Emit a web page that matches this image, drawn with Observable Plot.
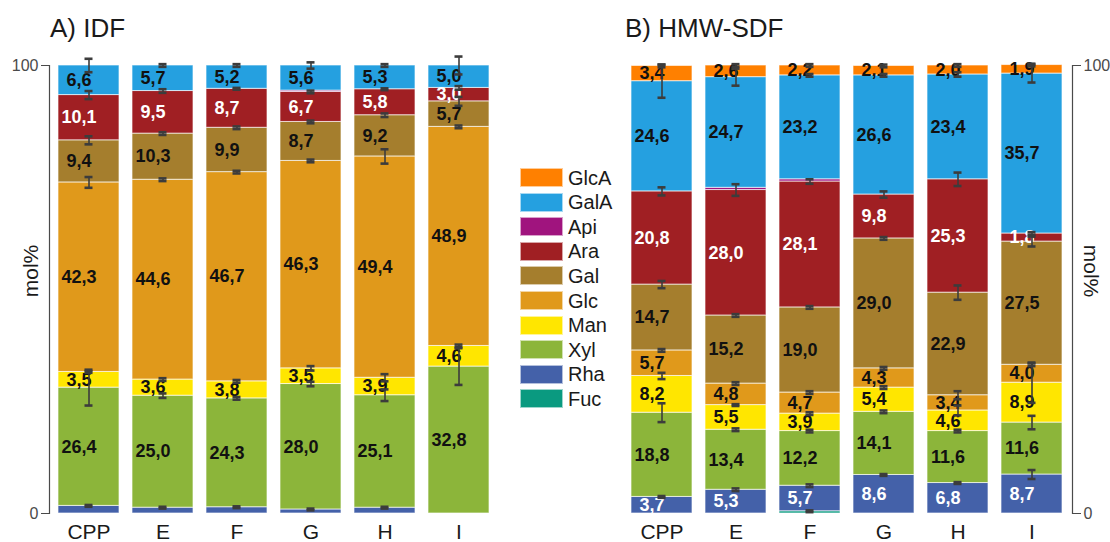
<!DOCTYPE html>
<html>
<head>
<meta charset="utf-8">
<script src="https://cdn.jsdelivr.net/npm/d3@7"></script>
<script src="https://cdn.jsdelivr.net/npm/@observablehq/plot@0.6"></script>
<style>
  body { margin: 0; background: #fff; font-family: "Liberation Sans", Arial, sans-serif; }
  #root { position: relative; width: 1110px; height: 542px; overflow: hidden; background: #fff; }
  .abs { position: absolute; white-space: nowrap; color: #1a1a1a; }
  .title { font-size: 26px; line-height: 26px; }
  .ylab { font-size: 21px; line-height: 21px; transform: translate(-50%, -50%) rotate(-90deg); }
  .ylabR { font-size: 21px; line-height: 21px; transform: translate(-50%, -50%) rotate(90deg); }
  .sw { position: absolute; width: 43px; height: 19px; box-sizing: border-box; border: 1px solid rgba(255,255,255,0.6); }
  .lt { position: absolute; font-size: 20px; line-height: 20px; color: #1a1a1a; }
</style>
</head>
<body>
<div id="root"></div>
<script>
// ---- categories ----
const samples = ["CPP", "E", "F", "G", "H", "I"];
// stacking order, bottom to top
const sugars = ["Fuc", "Rha", "Xyl", "Man", "Glc", "Gal", "Ara", "Api", "GalA", "GlcA"];
const sugarColors = ["#0a9a80", "#4461a9", "#8cb53a", "#ffe600", "#e0991b", "#a57e2d", "#a01f23", "#a0147e", "#25a0e0", "#ff8000"];

// ---- A) IDF values (mol%) ----
const idfFuc  = [0, 0, 0, 0, 0, 0];
const idfRha  = [1.7, 1.3, 1.4, 0.9, 1.3, 0];
const idfXyl  = [26.4, 25.0, 24.3, 28.0, 25.1, 32.8];
const idfMan  = [3.5, 3.6, 3.8, 3.5, 3.9, 4.6];
const idfGlc  = [42.3, 44.6, 46.7, 46.3, 49.4, 48.9];
const idfGal  = [9.4, 10.3, 9.9, 8.7, 9.2, 5.7];
const idfAra  = [10.1, 9.5, 8.7, 6.7, 5.8, 3.0];
const idfApi  = [0, 0, 0, 0.3, 0, 0];
const idfGalA = [6.6, 5.7, 5.2, 5.6, 5.3, 5.0];
const idfGlcA = [0, 0, 0, 0, 0, 0];
// error bars (sd, at top of each segment)
const idfErrRha  = [0.2, 0.2, 0.2, 0.2, 0.2, 0];
const idfErrXyl  = [4.0, 0.5, 0.3, 0.5, 1.3, 4.1];
const idfErrMan  = [0.2, 0.3, 0.3, 0.5, 0.8, 0.3];
const idfErrGlc  = [1.2, 0.3, 0.3, 0.3, 1.6, 0.3];
const idfErrGal  = [0.9, 0.3, 0.3, 0.3, 0.4, 1.0];
const idfErrAra  = [0.9, 0.4, 0.2, 0.3, 0.2, 0.4];
const idfErrGalA = [1.5, 0.3, 0.3, 0.7, 0.3, 2.0];
const idfLabelled = ["Xyl", "Man", "Glc", "Gal", "Ara", "GalA"];

// ---- B) HMW-SDF values (mol%) ----
const sdfFuc  = [0, 0, 0.5, 0, 0, 0];
const sdfRha  = [3.7, 5.3, 5.7, 8.6, 6.8, 8.7];
const sdfXyl  = [18.8, 13.4, 12.2, 14.1, 11.6, 11.6];
const sdfMan  = [8.2, 5.5, 3.9, 5.4, 4.6, 8.9];
const sdfGlc  = [5.7, 4.8, 4.7, 4.3, 3.4, 4.0];
const sdfGal  = [14.7, 15.2, 19.0, 29.0, 22.9, 27.5];
const sdfAra  = [20.8, 28.0, 28.1, 9.8, 25.3, 1.8];
const sdfApi  = [0, 0.5, 0.5, 0, 0, 0];
const sdfGalA = [24.6, 24.7, 23.2, 26.6, 23.4, 35.7];
const sdfGlcA = [3.4, 2.6, 2.2, 2.1, 2.0, 1.9];
const sdfErrFuc  = [0, 0, 0.2, 0, 0, 0];
const sdfErrRha  = [0.2, 0.3, 0.3, 0.2, 0.2, 1.0];
const sdfErrXyl  = [2.1, 0.3, 0.3, 0.3, 0.3, 1.5];
const sdfErrMan  = [0.7, 0.2, 0.3, 0.3, 1.1, 4.5];
const sdfErrGlc  = [0.3, 0.3, 0.3, 0.3, 0.9, 0.3];
const sdfErrGal  = [0.8, 0.3, 0.3, 0.3, 1.6, 1.1];
const sdfErrAra  = [0.9, 1.3, 0.5, 0.7, 1.5, 0.3];
const sdfErrGalA = [3.7, 1.9, 0.3, 0.3, 0.5, 2.0];
const sdfErrGlcA = [0.3, 0.3, 0.3, 0.3, 0.3, 0.3];
const sdfLabelled = ["Rha", "Xyl", "Man", "Glc", "Gal", "Ara", "GalA", "GlcA"];

const whiteLabelSugars = ["Ara", "Rha"];

const idfVals = {Fuc: idfFuc, Rha: idfRha, Xyl: idfXyl, Man: idfMan, Glc: idfGlc, Gal: idfGal, Ara: idfAra, Api: idfApi, GalA: idfGalA, GlcA: idfGlcA};
const idfErrs = {Rha: idfErrRha, Xyl: idfErrXyl, Man: idfErrMan, Glc: idfErrGlc, Gal: idfErrGal, Ara: idfErrAra, GalA: idfErrGalA};
const sdfVals = {Fuc: sdfFuc, Rha: sdfRha, Xyl: sdfXyl, Man: sdfMan, Glc: sdfGlc, Gal: sdfGal, Ara: sdfAra, Api: sdfApi, GalA: sdfGalA, GlcA: sdfGlcA};
const sdfErrs = {Fuc: sdfErrFuc, Rha: sdfErrRha, Xyl: sdfErrXyl, Man: sdfErrMan, Glc: sdfErrGlc, Gal: sdfErrGal, Ara: sdfErrAra, GalA: sdfErrGalA, GlcA: sdfErrGlcA};

function buildRows(vals, errs, labelled) {
  const rows = [];
  samples.forEach((s, i) => {
    let cum = 0;
    for (const g of sugars) {
      const v = vals[g][i];
      const e = errs[g] ? errs[g][i] : 0;
      rows.push({sample: s, sugar: g, v, y1: cum, y2: cum + v, err: e, label: labelled.includes(g)});
      cum += v;
    }
  });
  return rows.filter(d => d.v > 0);
}

const fmt = v => v.toFixed(1).replace(".", ",");
const errColor = "#3c3c3c";

function chart(rows, opts) {
  const labels = rows.filter(d => d.label);
  const errRows = rows.filter(d => d.err > 0);
  return Plot.plot({
    width: opts.width, height: 542,
    marginTop: 65, marginBottom: 29, marginLeft: opts.ml, marginRight: opts.mr,
    x: {domain: samples, paddingInner: 0.17, paddingOuter: 0.1, axis: null},
    y: {domain: [0, 100], axis: null},
    color: {domain: sugars, range: sugarColors},
    style: {fontFamily: "'Liberation Sans', Arial, sans-serif", background: "transparent", overflow: "visible"},
    marks: [
      Plot.barY(rows, {x: "sample", y1: "y1", y2: "y2", fill: "sugar", stroke: "#ffffff", strokeOpacity: 0.65, strokeWidth: 1}),
      Plot.text(labels.filter(d => !whiteLabelSugars.includes(d.sugar)), {
        x: "sample", y: d => (d.y1 + d.y2) / 2, text: d => fmt(d.v), dx: -10,
        fill: "#111", fontSize: 18, fontWeight: "bold"}),
      Plot.text(labels.filter(d => whiteLabelSugars.includes(d.sugar)), {
        x: "sample", y: d => (d.y1 + d.y2) / 2, text: d => fmt(d.v), dx: -10,
        fill: "#ffffff", fontSize: 18, fontWeight: "bold"}),
      Plot.ruleX(errRows, {x: "sample", y1: d => d.y2 - d.err, y2: d => d.y2 + d.err, stroke: errColor, strokeWidth: 1.6}),
      Plot.tickY(errRows, {x: "sample", y: d => d.y2 - d.err, insetLeft: 26.5, insetRight: 26.5, stroke: errColor, strokeWidth: 2.6}),
      Plot.tickY(errRows, {x: "sample", y: d => d.y2 + d.err, insetLeft: 26.5, insetRight: 26.5, stroke: errColor, strokeWidth: 2.6}),
      Plot.axisX({fontSize: 21, tickSize: 0, tickPadding: 11, label: null, color: "#1a1a1a"}),
      Plot.axisY({anchor: opts.anchor, ticks: [0, 100], tickSize: 8, tickPadding: 3, fontSize: 16, label: null, color: "#4a4a4a"}),
      Plot.frame({anchor: opts.anchor, stroke: "#4a4a4a", strokeWidth: 1.2})
    ]
  });
}

const root = document.getElementById("root");

const left = chart(buildRows(idfVals, idfErrs, idfLabelled), {width: 500, ml: 49, mr: 1, anchor: "left"});
left.style.position = "absolute"; left.style.left = "0px"; left.style.top = "0px";
root.appendChild(left);

const right = chart(buildRows(sdfVals, sdfErrs, sdfLabelled), {width: 510, ml: 21, mr: 38, anchor: "right"});
right.style.position = "absolute"; right.style.left = "600px"; right.style.top = "0px";
root.appendChild(right);

function addText(cls, text, left, top) {
  const d = document.createElement("div");
  d.className = "abs " + cls;
  d.textContent = text;
  d.style.left = left + "px";
  d.style.top = top + "px";
  root.appendChild(d);
}
addText("title", "A) IDF", 50, 15);
addText("title", "B) HMW-SDF", 625, 15);
addText("ylab", "mol%", 30, 271);
addText("ylabR", "mol%", 1091, 271);

// legend (top to bottom = reverse of stacking order)
const legendOrder = sugars.slice().reverse();
legendOrder.forEach((g, i) => {
  const top = 168 + i * 24.6;
  const sw = document.createElement("div");
  sw.className = "sw";
  sw.style.left = "520px";
  sw.style.top = top + "px";
  sw.style.background = sugarColors[sugars.indexOf(g)];
  root.appendChild(sw);
  const t = document.createElement("div");
  t.className = "lt";
  t.textContent = g;
  t.style.left = "568px";
  t.style.top = (top - 0.5) + "px";
  root.appendChild(t);
});
</script>
</body>
</html>
